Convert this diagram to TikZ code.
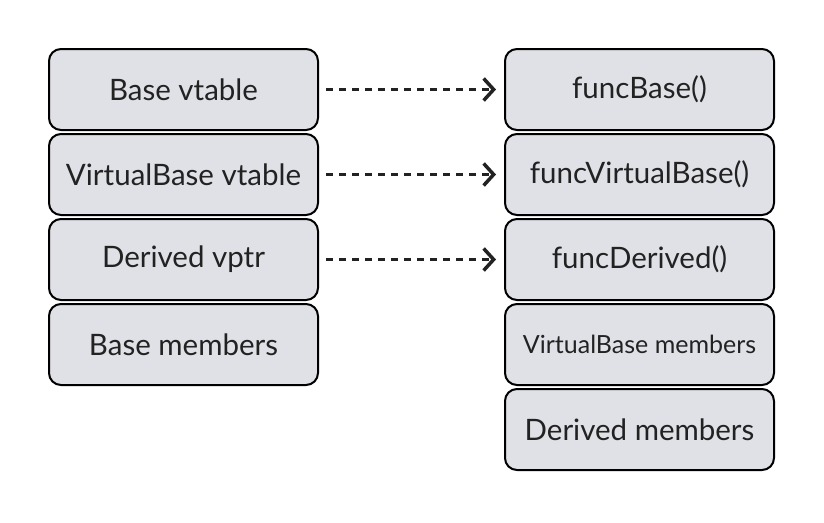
\documentclass[tikz,border=0pt]{standalone}
\usepackage{fontspec}
\setmainfont{Lato}
\usetikzlibrary{arrows.meta}
\definecolor{boxfill}{HTML}{E0E1E6}
\definecolor{ink}{HTML}{222222}
\tikzset{
  cell/.style={draw=black, line width=2pt, fill=boxfill, rounded corners=12pt,
    minimum width=269pt, minimum height=81pt, inner sep=0pt, text=ink, font=\fontsize{29.5}{33}\selectfont},
  small/.style={font=\fontsize{25}{29}\selectfont},
  ptr/.style={line width=3pt, draw=ink, dash pattern=on 7pt off 6pt,
    -{Straight Barb[length=10pt, width=22pt, line width=3.5pt]}}
}
\begin{document}
\begin{tikzpicture}[x=1pt,y=-1pt]
\useasboundingbox (0,0) rectangle (824,522);
\node[cell] (l1) at (183.5,89.5) {Base vtable};
\node[cell] (l2) at (183.5,174.5) {VirtualBase vtable};
\node[cell] (l3) at (183.5,259.5) {Derived vptr};
\node[cell] (l4) at (183.5,344.5) {Base members};
\node[cell] (r1) at (639.5,89.5) {funcBase()};
\node[cell] (r2) at (639.5,174.5) {funcVirtualBase()};
\node[cell] (r3) at (639.5,259.5) {funcDerived()};
\node[cell,small] (r4) at (639.5,344.5) {VirtualBase members};
\node[cell] (r5) at (639.5,429.5) {Derived members};
\draw[ptr] ([xshift=7pt]l1.east) -- ([xshift=-8pt]r1.west);
\draw[ptr] ([xshift=7pt]l2.east) -- ([xshift=-8pt]r2.west);
\draw[ptr] ([xshift=7pt]l3.east) -- ([xshift=-8pt]r3.west);
\end{tikzpicture}
\end{document}
